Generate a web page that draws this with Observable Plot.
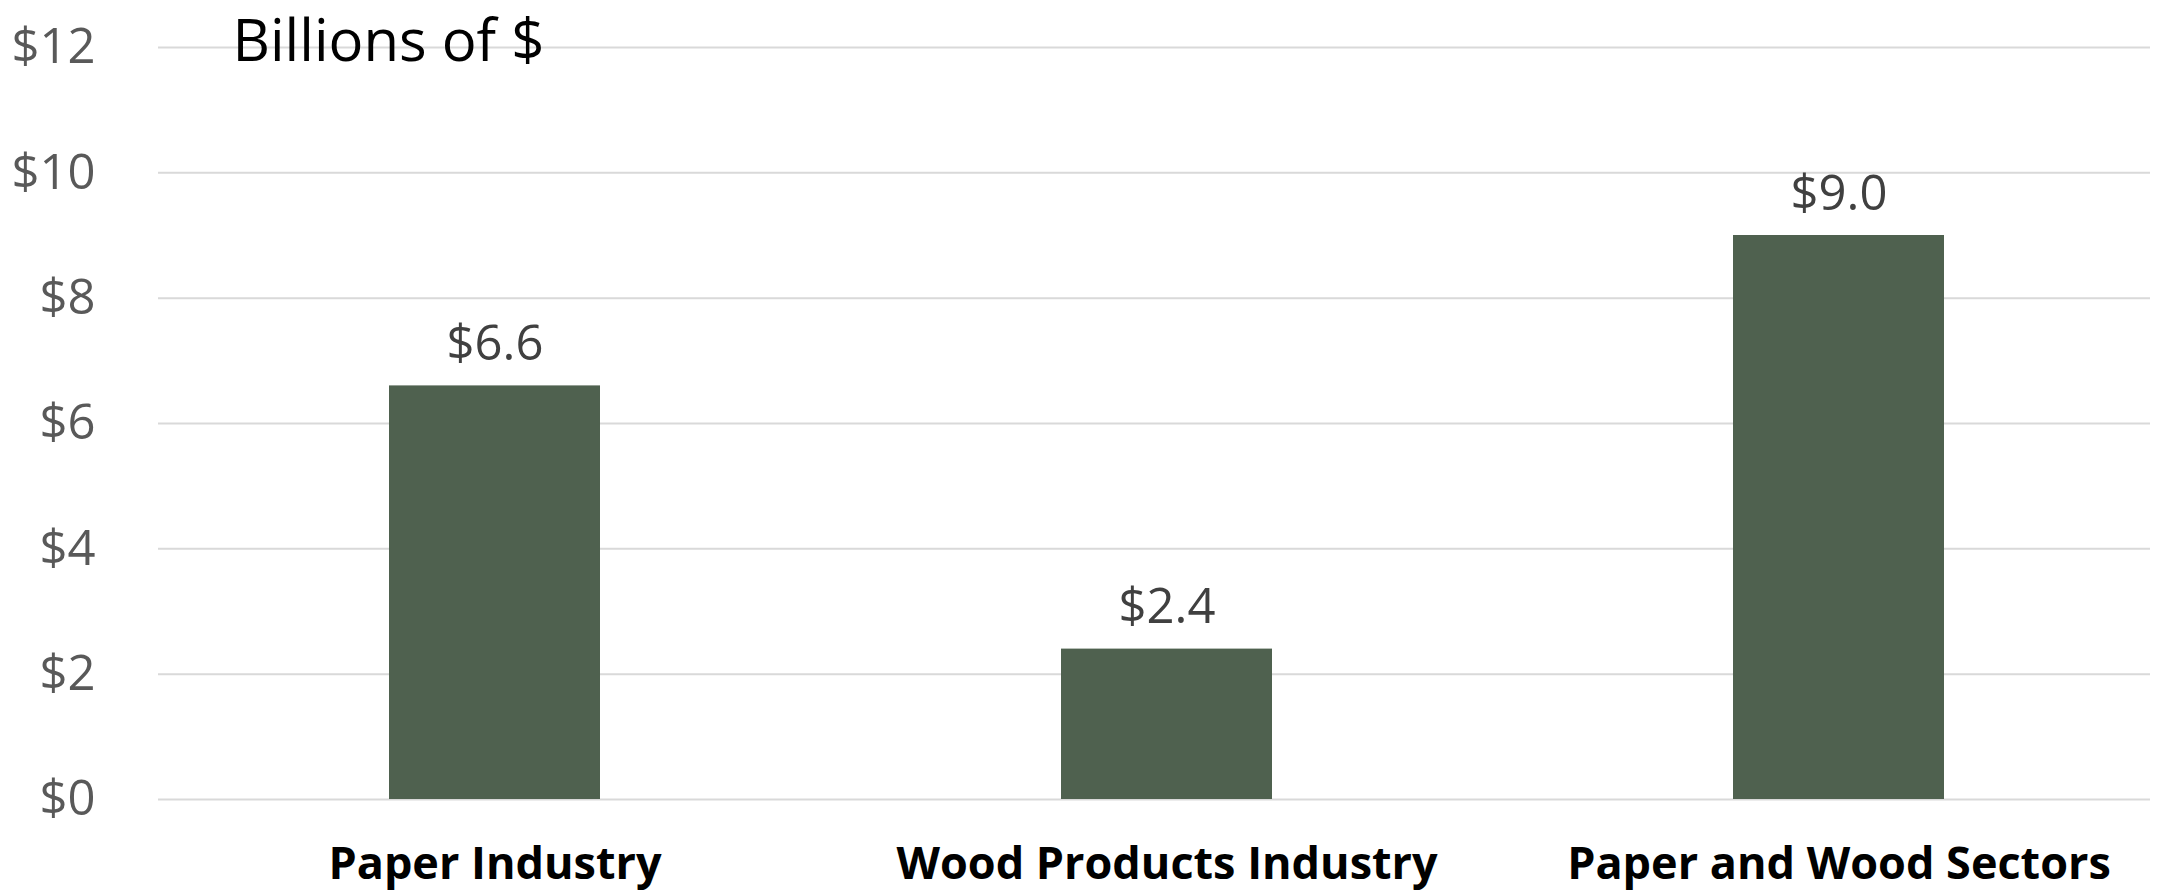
<!DOCTYPE html>
<html>
<head>
<meta charset="utf-8">
<script src="https://cdn.jsdelivr.net/npm/d3@7"></script>
<script src="https://cdn.jsdelivr.net/npm/@observablehq/plot@0.6"></script>
<style>
  html, body { margin: 0; padding: 0; background: white; overflow: hidden; }
</style>
</head>
<body>
<div id="chart"></div>
<script>
const categories = ["Paper Industry", "Wood Products Industry", "Paper and Wood Sectors"];
const values = [6.6, 2.4, 9.0];
const valueLabels = ["$6.6", "$2.4", "$9.0"];
const yTicks = [0, 2, 4, 6, 8, 10, 12];
const yTickLabels = ["$0", "$2", "$4", "$6", "$8", "$10", "$12"];
const unitTitle = "Billions of $";

const data = categories.map((c, i) => ({category: c, value: values[i], label: valueLabels[i]}));

const chart = Plot.plot({
  width: 2178,
  height: 895,
  marginLeft: 158,
  marginRight: 28,
  marginTop: 47,
  marginBottom: 96,
  style: {fontFamily: "'Open Sans', sans-serif", background: "white", overflow: "visible"},
  x: {domain: categories, range: [158, 2175], paddingInner: 0.686, paddingOuter: 0.343, label: null},
  y: {domain: [0, 12], label: null},
  marks: [
    Plot.gridY(yTicks, {stroke: "#D9D9D9", strokeOpacity: 1, strokeWidth: 2}),
    Plot.barY(data, {x: "category", y: "value", fill: "#4F614F"}),
    Plot.text(data, {x: "category", y: "value", text: "label", lineAnchor: "bottom", dy: -26, fontSize: 49, fill: "#404040"}),
    Plot.axisY(yTicks, {tickSize: 0, tickPadding: 63, tickFormat: (d) => yTickLabels[yTicks.indexOf(d)], fontSize: 49, fill: "#595959", label: null}),
    Plot.axisX({tickSize: 0, tickPadding: 48, fontSize: 45, fontWeight: "bold", fill: "black", label: null}),
    Plot.text([unitTitle], {frameAnchor: "top-left", dx: 74, dy: -5, textAnchor: "start", lineAnchor: "middle", fontSize: 58, fill: "black"})
  ]
});
document.getElementById("chart").appendChild(chart);
</script>
</body>
</html>
